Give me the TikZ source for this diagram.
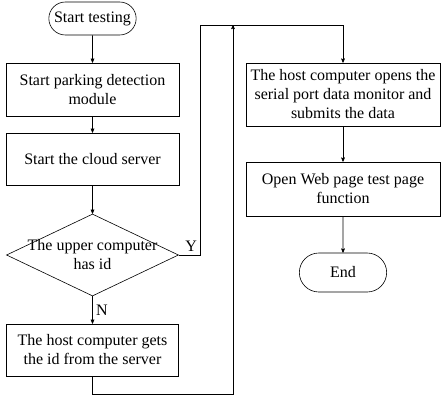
\documentclass[tikz,border=0pt]{standalone}
\usepackage{fontspec}
\setmainfont{Liberation Serif}
\usetikzlibrary{arrows,shapes,calc,positioning}
\tikzset{
flow/.style={->,>=stealth',semithick},
stepbox/.style={draw,semithick,align=center,inner sep=2pt},
terminal/.style={draw,semithick,rounded rectangle,minimum width=94pt,align=center},
decision/.style={draw,semithick,diamond,minimum width=172pt,minimum height=82pt,inner sep=0pt}
}

\begin{document}
\begin{tikzpicture}[x=1pt,y=-1pt,font=\fontsize{16}{19}\selectfont]
			\useasboundingbox (0,0) rectangle (444,400);
			
			%left column
			\node[terminal,minimum height=33pt] (start) at (92.5,18.5) {Start testing};
			\node[stepbox,minimum width=173pt,minimum height=53pt] (detect) at (92.5,89.5) {Start parking detection\\module};
			\node[stepbox,minimum width=173pt,minimum height=52pt] (cloud) at (92.5,159) {Start the cloud server};
			\node[decision] (check) at (92.5,255) {};
			\node[align=center] (checktext) at (check.center) {The upper computer\\has id};
			\node[stepbox,minimum width=172pt,minimum height=52pt] (fetch) at (92.5,350) {The host computer gets\\the id from the server};
			
			%right column
			\node[stepbox,minimum width=194pt,minimum height=63pt] (monitor) at (343,94.5) {The host computer opens the\\serial port data monitor and\\submits the data};
			\node[stepbox,minimum width=194pt,minimum height=54pt] (web) at (343,189) {Open Web page test page\\function};
			\node[terminal,minimum height=39pt] (finish) at (343,272.5) {End};
			
			%corners of the loop lines
			\coordinate (top) at (200,25);
			\coordinate (low) at (233,394);
			
			\draw[flow] (start) -- (detect);
			\draw[flow] (detect) -- (cloud);
			\draw[flow] (cloud) -- (check);
			\draw[flow] (check) -- node[right] {N} (fetch);
			\draw[flow] (check.east) node[above right,xshift=3pt] {Y} -| (top) -| (monitor.north);
			\draw[flow] (fetch.south) |- (low) -- (low |- top);
			\draw[flow] (monitor) -- (web);
			\draw[flow] (web) -- (finish);
			
\end{tikzpicture}
\end{document}
